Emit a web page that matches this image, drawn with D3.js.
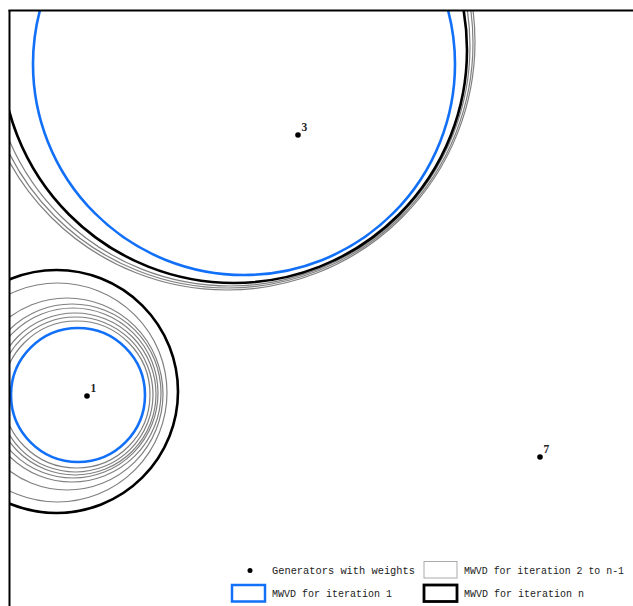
<!DOCTYPE html>
<html>
<head>
<meta charset="utf-8">
<script src="https://cdn.jsdelivr.net/npm/d3@7/dist/d3.min.js"></script>
<style>
  html, body { margin: 0; padding: 0; background: #fff; }
  svg { display: block; }
</style>
</head>
<body>
<div id="chart"></div>
<script>
// ---------- data (map units) ----------
const generatorIds = ["1", "3", "7"];
const generatorX = [77, 288, 530];
const generatorY = [264, 525, 203];

// MWVD boundary circles: [centerX, centerY, radius]
const iterationFirst = [
  [68, 265, 67],
  [234, 596, 211]
];
const iterationMiddle = [
  [47.5, 267.5, 109.5],
  [57, 266, 96],
  [62, 267, 89],
  [63, 267, 85],
  [65, 266, 81],
  [65.5, 265.5, 77.5],
  [66.5, 265.5, 73.5],
  [220, 614, 240],
  [218, 617, 245],
  [216.7, 618.3, 248.3]
];
const iterationLast = [
  [46.5, 268.5, 121.5],
  [224, 610, 233]
];

const legendLabels = [
  "Generators with weights",
  "MWVD for iteration 2 to n-1",
  "MWVD for iteration 1",
  "MWVD for iteration n"
];

// ---------- layout ----------
const W = 633, H = 606;
const padL = 10, padT = 11;
const svg = d3.select("#chart").append("svg").attr("width", W).attr("height", H);

const x = d3.scaleLinear().domain([0, 650]).range([padL, padL + 650]);
const y = d3.scaleLinear().domain([0, 650]).range([padT + 649, padT - 1]);
const rr = v => x(v) - x(0);

svg.append("clipPath").attr("id", "plotclip")
  .append("rect").attr("x", padL).attr("y", padT).attr("width", W).attr("height", H);

const plot = svg.append("g").attr("clip-path", "url(#plotclip)");

const BLUE = "#1170f7";

function drawCircles(data, stroke, width) {
  plot.append("g").selectAll("circle").data(data).join("circle")
    .attr("cx", d => x(d[0]))
    .attr("cy", d => y(d[1]))
    .attr("r", d => rr(d[2]))
    .attr("fill", "none")
    .attr("stroke", stroke)
    .attr("stroke-width", width);
}
drawCircles(iterationMiddle, "#808080", 1.2);
drawCircles(iterationFirst, BLUE, 2.6);
drawCircles(iterationLast, "#000", 2.6);

// generators
const gens = generatorIds.map((id, i) => ({ id, gx: generatorX[i], gy: generatorY[i] }));
plot.append("g").selectAll("circle").data(gens).join("circle")
  .attr("cx", d => x(d.gx)).attr("cy", d => y(d.gy)).attr("r", 2.8).attr("fill", "#000");
plot.append("g").selectAll("text").data(gens).join("text")
  .attr("x", d => x(d.gx) + 3.5).attr("y", d => y(d.gy) - 4.5)
  .attr("font-family", "Liberation Serif, serif").attr("font-size", 11.5)
  .attr("font-weight", "bold").attr("fill", "#222")
  .text(d => d.id);

// frame (left and top edges)
svg.append("line").attr("x1", padL - 0.5).attr("x2", padL - 0.5).attr("y1", padT - 1).attr("y2", H)
  .attr("stroke", "#000").attr("stroke-width", 2);
svg.append("line").attr("x1", padL - 1.5).attr("x2", W).attr("y1", padT - 0.5).attr("y2", padT - 0.5)
  .attr("stroke", "#000").attr("stroke-width", 2);

// ---------- legend ----------
const leg = svg.append("g").attr("font-family", "Liberation Mono, monospace").attr("font-size", 10.5).attr("fill", "#222");
// row 1
leg.append("circle").attr("cx", 250).attr("cy", 570.5).attr("r", 2.5).attr("fill", "#000");
leg.append("text").attr("x", 272).attr("y", 574).attr("textLength", 143).attr("lengthAdjust", "spacingAndGlyphs").text(legendLabels[0]);
leg.append("rect").attr("x", 424).attr("y", 561.5).attr("width", 33).attr("height", 16.5)
  .attr("fill", "#fff").attr("stroke", "#aaa").attr("stroke-width", 1);
leg.append("text").attr("x", 464).attr("y", 574).attr("textLength", 160).attr("lengthAdjust", "spacingAndGlyphs").text(legendLabels[1]);
// row 2
leg.append("rect").attr("x", 232).attr("y", 585).attr("width", 33).attr("height", 16.5)
  .attr("fill", "#fff").attr("stroke", BLUE).attr("stroke-width", 2.5);
leg.append("text").attr("x", 272).attr("y", 597).attr("textLength", 120).attr("lengthAdjust", "spacingAndGlyphs").text(legendLabels[2]);
leg.append("rect").attr("x", 424).attr("y", 585).attr("width", 33).attr("height", 16.5)
  .attr("fill", "#fff").attr("stroke", "#000").attr("stroke-width", 2.8);
leg.append("text").attr("x", 464).attr("y", 597).attr("textLength", 120).attr("lengthAdjust", "spacingAndGlyphs").text(legendLabels[3]);
</script>
</body>
</html>
